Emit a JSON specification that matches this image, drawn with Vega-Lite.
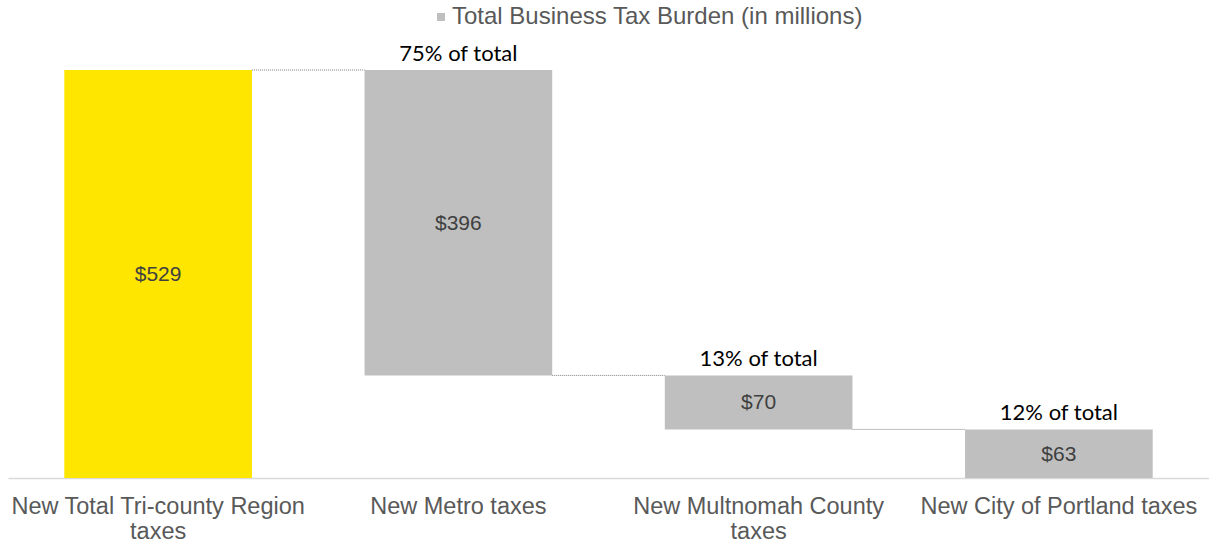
{
  "$schema": "https://vega.github.io/schema/vega-lite/v6.json",
  "width": 1201,
  "height": 408,
  "autosize": {"type": "none"},
  "padding": {"left": 8, "top": 70, "right": 0, "bottom": 70},
  "background": "white",
  "config": {"view": {"stroke": null}},
  "datasets": {
    "bars": [
      {"category": "New Total Tri-county Region taxes", "start": 529, "end": 0, "label": "$529", "pct": null, "type": "total", "series": "Total Business Tax Burden (in millions)"},
      {"category": "New Metro taxes", "start": 529, "end": 133, "label": "$396", "pct": "75% of total", "type": "part", "series": "Total Business Tax Burden (in millions)"},
      {"category": "New Multnomah County taxes", "start": 133, "end": 63, "label": "$70", "pct": "13% of total", "type": "part", "series": "Total Business Tax Burden (in millions)"},
      {"category": "New City of Portland taxes", "start": 63, "end": 0, "label": "$63", "pct": "12% of total", "type": "part", "series": "Total Business Tax Burden (in millions)"}
    ],
    "links": [
      {"from": "New Total Tri-county Region taxes", "to": "New Metro taxes", "level": 529},
      {"from": "New Metro taxes", "to": "New Multnomah County taxes", "level": 133},
      {"from": "New Multnomah County taxes", "to": "New City of Portland taxes", "level": 63}
    ]
  },
  "layer": [
    {
      "data": {"name": "bars"},
      "mark": {"type": "bar"},
      "encoding": {
        "x": {
          "field": "category",
          "type": "nominal",
          "scale": {
            "domain": ["New Total Tri-county Region taxes", "New Metro taxes", "New Multnomah County taxes", "New City of Portland taxes"],
            "paddingInner": 0.375,
            "paddingOuter": 0.1875
          },
          "axis": {
            "title": null,
            "labelAngle": 0,
            "ticks": false,
            "tickSize": 0,
            "labelPadding": 16,
            "labelFont": "Liberation Sans",
            "labelFontSize": 23.5,
            "labelColor": "#595959",
            "labelLimit": 600,
            "labelBaseline": "top",
            "labelLineHeight": 25,
            "domainColor": "#D9D9D9",
            "domainWidth": 1.5,
            "grid": false,
            "labelExpr": "datum.label == 'New Total Tri-county Region taxes' ? ['New Total Tri-county Region', 'taxes'] : datum.label == 'New Multnomah County taxes' ? ['New Multnomah County', 'taxes'] : datum.label"
          }
        },
        "y": {
          "field": "start",
          "type": "quantitative",
          "scale": {"domain": [0, 529], "nice": false},
          "axis": null
        },
        "y2": {"field": "end"},
        "color": {
          "condition": {"test": "datum.type === 'total'", "value": "#FFE600"},
          "field": "series",
          "type": "nominal",
          "scale": {"range": ["#BFBFBF"]},
          "legend": {
            "title": null,
            "orient": "none",
            "legendX": 421,
            "legendY": -65,
            "symbolType": "square",
            "symbolSize": 64,
            "symbolStrokeWidth": 0,
            "labelFont": "Liberation Sans",
            "labelFontSize": 24,
            "labelColor": "#595959",
            "labelOffset": -1,
            "labelLimit": 700
          }
        }
      }
    },
    {
      "data": {"name": "links"},
      "mark": {"type": "rule", "strokeDash": [1, 1], "color": "#7F7F7F", "strokeWidth": 1},
      "encoding": {
        "x": {"field": "from", "type": "nominal", "bandPosition": 1},
        "x2": {"field": "to", "bandPosition": 0},
        "y": {"field": "level", "type": "quantitative"}
      }
    },
    {
      "data": {"name": "bars"},
      "transform": [{"fold": ["start", "end"], "as": ["k", "v"]}],
      "mark": {"type": "text", "font": "Liberation Sans", "fontSize": 21, "color": "#404040", "baseline": "middle", "align": "center", "dy": 1},
      "encoding": {
        "x": {"field": "category", "type": "nominal"},
        "y": {"field": "v", "type": "quantitative", "aggregate": "mean"},
        "text": {"field": "label"}
      }
    },
    {
      "data": {"name": "bars"},
      "transform": [{"filter": "datum.pct != null"}],
      "mark": {"type": "text", "font": "Lato", "fontSize": 22, "color": "#000000", "baseline": "alphabetic", "align": "center", "dy": -9},
      "encoding": {
        "x": {"field": "category", "type": "nominal"},
        "y": {"field": "start", "type": "quantitative"},
        "text": {"field": "pct"}
      }
    }
  ]
}
